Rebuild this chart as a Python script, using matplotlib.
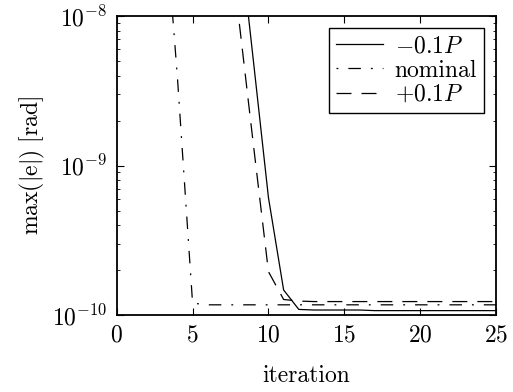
import matplotlib
matplotlib.use('Agg')
import matplotlib.pyplot as plt

plt.rcParams['font.family'] = 'serif'
plt.rcParams['font.serif'] = ['cmr10']
plt.rcParams['mathtext.fontset'] = 'cm'
plt.rcParams['axes.formatter.use_mathtext'] = True
plt.rcParams['axes.unicode_minus'] = False

iterations = list(range(0, 26))
minus_p = [1e-6, 1e-6, 1e-6, 1e-6, 1e-6, 1e-6, 5e-7, 2e-7, 4.2e-8, 5.1e-9, 6.1e-10,
           1.47e-10, 1.09e-10, 1.08e-10, 1.08e-10, 1.08e-10, 1.08e-10, 1.07e-10,
           1.07e-10, 1.07e-10, 1.07e-10, 1.07e-10, 1.07e-10, 1.07e-10, 1.07e-10, 1.07e-10]
nominal = [1e-6, 1e-6, 1e-6, 8e-8, 3.9e-9, 1.2e-10, 1.17e-10, 1.17e-10, 1.17e-10,
           1.17e-10, 1.17e-10, 1.17e-10, 1.17e-10, 1.17e-10, 1.17e-10, 1.17e-10,
           1.17e-10, 1.17e-10, 1.17e-10, 1.17e-10, 1.17e-10, 1.17e-10, 1.17e-10,
           1.17e-10, 1.17e-10, 1.17e-10]
plus_p = [1e-6, 1e-6, 1e-6, 1e-6, 1e-6, 1e-6, 5e-7, 1.2e-7, 1.05e-8, 1.4e-9, 1.95e-10,
          1.27e-10, 1.24e-10, 1.23e-10, 1.23e-10, 1.23e-10, 1.23e-10, 1.23e-10,
          1.23e-10, 1.23e-10, 1.23e-10, 1.23e-10, 1.23e-10, 1.23e-10, 1.23e-10, 1.23e-10]

fig = plt.figure(figsize=(5.13, 3.92), dpi=100)
ax = fig.add_axes([0.2275, 0.1964, 0.7395, 0.7626])

ax.semilogy(iterations, minus_p, color='black', lw=0.9, ls='-', label=r'$-0.1P$')
ax.semilogy(iterations, nominal, color='black', lw=0.9, dashes=(1.5, 8, 10, 8), label='nominal')
ax.semilogy(iterations, plus_p, color='black', lw=0.9, dashes=(12, 8), label=r'$+0.1P$')

ax.set_xlim(0, 25)
ax.set_ylim(1e-10, 1e-8)
ax.set_xticks([0, 5, 10, 15, 20, 25])
ax.tick_params(which='both', direction='in', top=True, right=True, labelsize=17, pad=7)
ax.tick_params(which='major', length=5)
ax.tick_params(which='minor', length=2.5)
for s in ax.spines.values():
    s.set_linewidth(1.3)

ax.set_xlabel('iteration', fontsize=17, labelpad=13)
ax.set_ylabel(r'$\mathrm{max}(|\mathrm{e}|)\ [\mathrm{rad}]$', fontsize=17, labelpad=3)

leg = ax.legend(loc='upper right', fontsize=17, fancybox=False, edgecolor='black',
                framealpha=1, handlelength=2.0, borderpad=0.3, labelspacing=0.1,
                handletextpad=0.5, borderaxespad=0.5)
leg.get_frame().set_linewidth(1.0)

fig.savefig('out.png', dpi=100)
